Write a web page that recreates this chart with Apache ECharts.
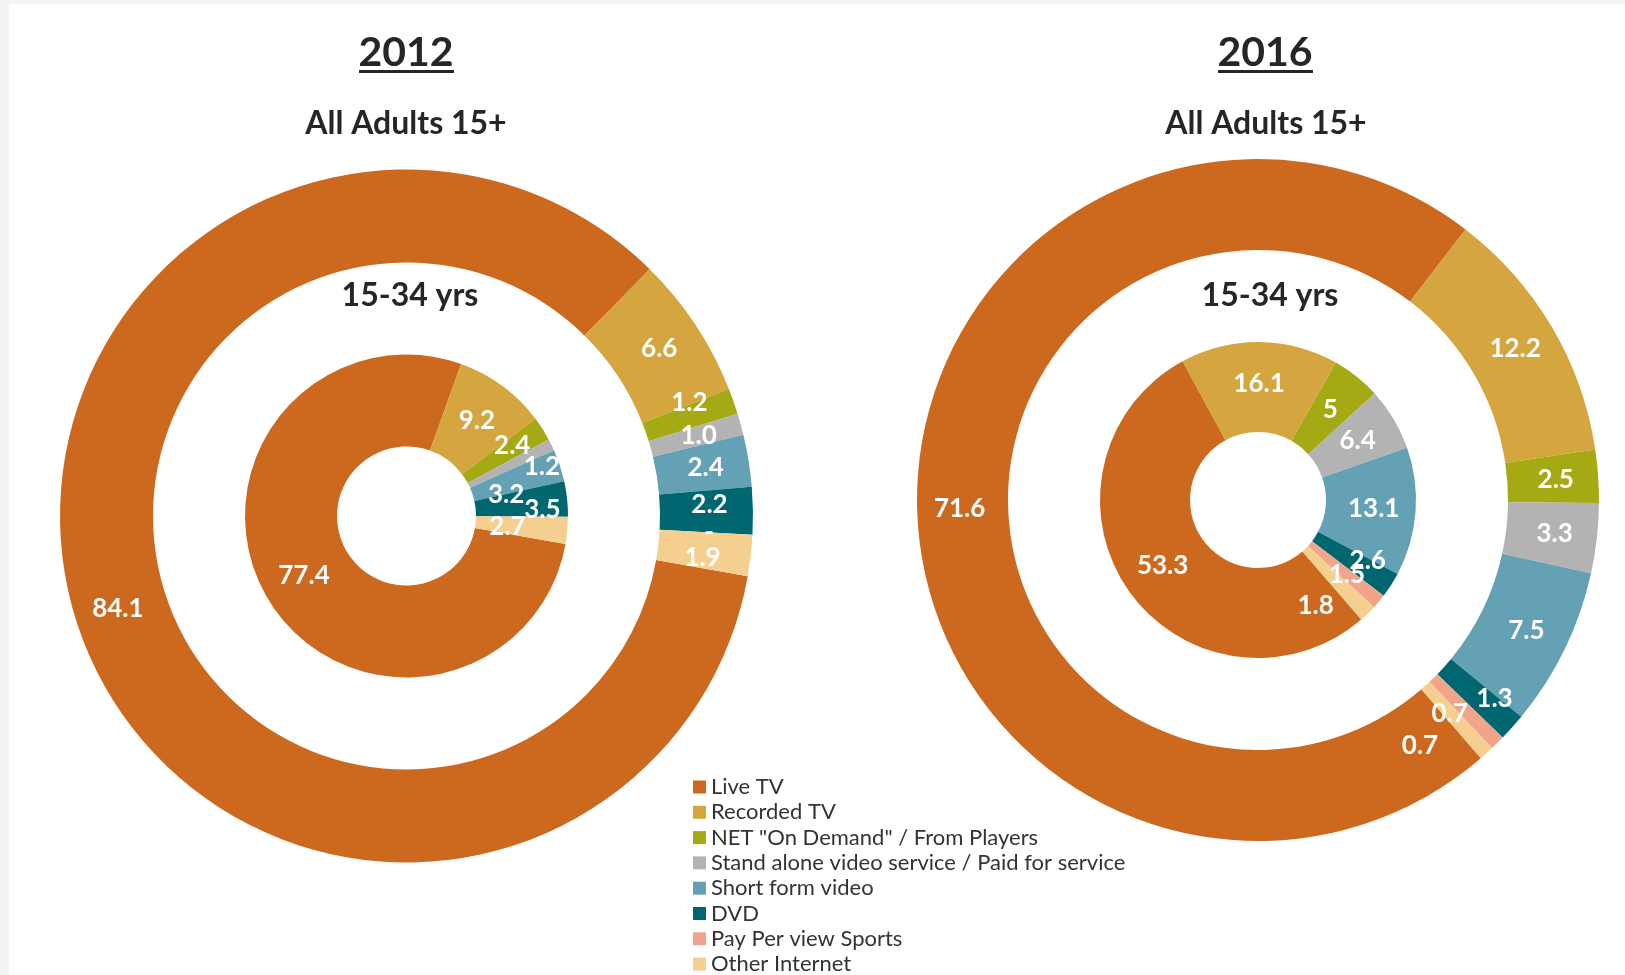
<!DOCTYPE html>
<html>
<head>
<meta charset="utf-8">
<script src="https://cdn.jsdelivr.net/npm/echarts@6/dist/echarts.min.js"></script>
<style>
  html, body { margin: 0; padding: 0; background: #f3f3f3; }
  #chart { width: 1625px; height: 975px; }
</style>
</head>
<body>
<div id="chart"></div>
<script>
// categories (legend order = slice order, clockwise)
const categories = [
  'Live TV',
  'Recorded TV',
  'NET "On Demand" / From Players',
  'Stand alone video service / Paid for service',
  'Short form video',
  'DVD',
  'Pay Per view Sports',
  'Other Internet'
];
const colors = ['#cc691e', '#d5a63f', '#a5a913', '#b3b3b3', '#65a1b5', '#00666f', '#f0a58a', '#f5cf8f'];

// values as printed on the chart ('-' = zero, '' = no label)
const adults2012 = ['84.1', '6.6', '1.2', '1.0', '2.4', '2.2', '-', '1.9'];
const young2012  = ['77.4', '9.2', '2.4', '1.2', '3.2', '3.5', '', '2.7'];
const adults2016 = ['71.6', '12.2', '2.5', '3.3', '7.5', '1.3', '0.7', '0.7'];
const young2016  = ['53.3', '16.1', '5', '6.4', '13.1', '2.6', '1.5', '1.8'];

// small label nudges (Excel moved a few crowded labels by hand)
const nudge = {
  a2012: { 2: [-3, -13], 5: [0, -7], 7: [-5, 7] },
  y2012: { 2: [6, -6], 3: [29, 3], 4: [-13, 16], 5: [18, 6], 7: [-17, 0] },
  a2016: { 5: [14, 0], 6: [-18, 1], 7: [-38, 24] },
  y2016: { 5: [12, -2], 7: [-23, 22] }
};

function ring(vals, key, center, radius, startAngle) {
  return {
    type: 'pie',
    center: center,
    radius: radius,
    startAngle: startAngle,
    clockwise: true,
    avoidLabelOverlap: false,
    silent: true,
    itemStyle: { borderWidth: 0 },
    label: {
      show: true,
      position: 'inside',
      color: '#fff',
      fontFamily: 'Lato',
      fontWeight: 'bold',
      fontSize: 26,
      formatter: p => vals[p.dataIndex]
    },
    labelLine: { show: false },
    labelLayout: p => {
      const d = nudge[key][p.dataIndex]
      return d ? { dx: d[0], dy: d[1] } : {}
    },
    data: categories.map((name, i) => ({ name: name, value: parseFloat(vals[i]) || 0 }))
  }
}

function heading(text, x, y, size) {
  return {
    type: 'text', x: x, y: y, silent: true,
    style: {
      text: text, align: 'center', verticalAlign: 'middle',
      font: 'bold ' + size + 'px Lato', fill: '#262626'
    }
  }
}

const chart = echarts.init(document.getElementById('chart'))
chart.setOption({
  animation: false,
  color: colors,
  graphic: [
    { type: 'rect', z: -10, silent: true, shape: { x: 9, y: 4, width: 1616, height: 971 }, style: { fill: '#fff' } },
    heading('2012', 406, 53, 41),
    { type: 'rect', silent: true, shape: { x: 359, y: 70, width: 95, height: 3 }, style: { fill: '#262626' } },
    heading('All Adults 15+', 406, 124, 32),
    heading('15-34 yrs', 410, 296, 32),
    heading('2016', 1265, 53, 41),
    { type: 'rect', silent: true, shape: { x: 1218, y: 70, width: 95, height: 3 }, style: { fill: '#262626' } },
    heading('All Adults 15+', 1266, 124, 32),
    heading('15-34 yrs', 1270, 296, 32)
  ],
  legend: {
    orient: 'vertical',
    left: 693,
    top: 776,
    height: 260,
    padding: 0,
    icon: 'rect',
    itemWidth: 13,
    itemHeight: 13,
    itemGap: 3.3,
    selectedMode: false,
    textStyle: { fontFamily: 'Lato', fontSize: 22, color: '#333', lineHeight: 20 },
    data: categories
  },
  series: [
    ring(adults2012, 'a2012', [406.5, 516], [253.5, 346.5], -10),
    ring(young2012, 'y2012', [406.5, 516], [69.5, 161.5], -10),
    ring(adults2016, 'a2016', [1258, 500], [250, 341], -49.2),
    ring(young2016, 'y2016', [1258, 500], [68, 158], -49.2)
  ]
})
</script>
</body>
</html>
